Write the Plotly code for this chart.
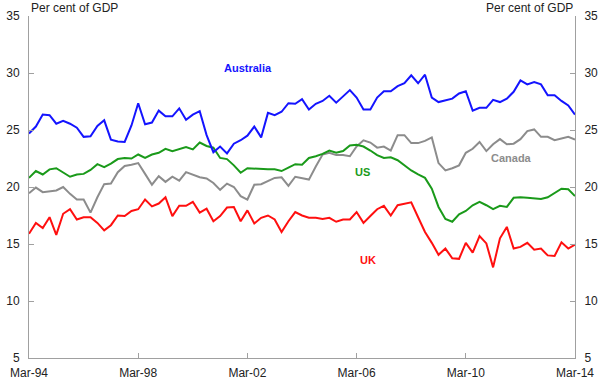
import plotly.graph_objects as go
import pandas as pd

dates = pd.date_range("1994-03-01", "2014-03-01", freq="3MS")

tick_dates = ["1994-03-01", "1998-03-01", "2002-03-01", "2006-03-01", "2010-03-01", "2014-03-01"]
tick_labels = ["Mar-94", "Mar-98", "Mar-02", "Mar-06", "Mar-10", "Mar-14"]
y_ticks = [5, 10, 15, 20, 25, 30, 35]

australia = [24.7, 25.3, 26.35, 26.3, 25.55, 25.8, 25.55, 25.2, 24.4, 24.45,
             25.35, 25.85, 24.15, 24.0, 23.95, 25.4, 27.35, 25.5, 25.65, 26.7,
             26.2, 26.2, 26.9, 25.9, 26.35, 26.65, 24.55, 23.05, 23.55, 22.95,
             23.8, 24.1, 24.5, 25.3, 24.35, 26.5, 26.3, 26.6, 27.35, 27.3,
             27.7, 26.8, 27.3, 27.55, 28.0, 27.4, 27.95, 28.5, 27.85, 26.8,
             26.8, 27.85, 28.4, 28.4, 28.85, 29.1, 29.8, 29.1, 29.85, 27.85,
             27.45, 27.6, 27.75, 28.2, 28.4, 26.7, 26.95, 26.95, 27.65, 27.45,
             27.75, 28.35, 29.35, 29.0, 29.2, 29.0, 28.05, 28.05, 27.55, 27.15,
             26.35]

us = [20.8, 21.4, 21.1, 21.55, 21.65, 21.25, 20.9, 21.1, 21.15, 21.5,
      22.0, 21.75, 22.05, 22.45, 22.55, 22.5, 22.85, 22.55, 22.85, 23.0,
      23.35, 23.15, 23.35, 23.5, 23.3, 23.9, 23.6, 23.45, 22.55, 22.45,
      21.9, 21.25, 21.65, 21.6, 21.55, 21.55, 21.55, 21.4, 21.7, 22.0,
      21.95, 22.55, 22.7, 22.9, 23.2, 23.0, 23.15, 23.65, 23.7, 23.55,
      23.2, 22.8, 22.55, 22.6, 22.35, 21.9, 21.45, 21.1, 20.8, 19.85,
      18.25, 17.2, 16.95, 17.6, 17.9, 18.4, 18.7, 18.4, 18.05, 18.35,
      18.25, 19.05, 19.1, 19.05, 19.0, 18.95, 19.1, 19.45, 19.85, 19.8,
      19.2]

canada = [19.45, 19.95, 19.55, 19.6, 19.7, 20.0, 19.4, 18.9, 18.9, 17.75,
          19.1, 20.25, 20.3, 21.3, 21.85, 21.95, 22.1, 21.15, 20.2, 20.95,
          20.45, 20.9, 20.55, 21.3, 21.1, 20.85, 20.75, 20.35, 19.75, 20.3,
          20.0, 19.2, 18.9, 20.2, 20.25, 20.5, 20.8, 20.85, 20.1, 20.9,
          20.8, 20.65, 21.8, 22.85, 23.0, 22.8, 22.8, 22.7, 23.55, 24.1,
          23.9, 23.45, 23.55, 23.2, 24.55, 24.55, 23.85, 23.85, 24.05, 24.35,
          22.1, 21.45, 21.65, 21.9, 23.0, 23.35, 23.95, 23.15, 23.75, 24.2,
          23.75, 23.8, 24.2, 24.9, 25.05, 24.4, 24.4, 24.1, 24.25, 24.4,
          24.15]

uk = [15.9, 16.85, 16.4, 17.35, 15.8, 17.65, 18.05, 17.15, 17.35, 17.35,
      16.85, 16.2, 16.65, 17.5, 17.45, 17.9, 18.05, 18.9, 18.3, 18.55,
      19.1, 17.45, 18.35, 18.35, 18.7, 17.75, 18.1, 17.0, 17.45, 18.2,
      18.25, 17.0, 17.95, 16.8, 17.3, 17.5, 17.15, 16.05, 17.0, 17.8,
      17.5, 17.3, 17.3, 17.2, 17.3, 16.95, 17.15, 17.15, 17.8, 16.85,
      17.45, 18.05, 18.35, 17.5, 18.4, 18.5, 18.65, 17.35, 16.05, 15.1,
      14.05, 14.6, 13.75, 13.7, 15.1, 14.25, 15.7, 15.05, 12.95, 15.5,
      16.5, 14.6, 14.75, 15.1, 14.5, 14.6, 14.0, 13.95, 15.15, 14.6,
      14.95]

series = [
    ("Canada", canada, "#8c8c8c"),
    ("US", us, "#1a9a1a"),
    ("Australia", australia, "#1414ff"),
    ("UK", uk, "#ff0f0f"),
]

FONT = "Arial, Liberation Sans, sans-serif"
AXIS_COLOR = "#a0a0a0"
TEXT_COLOR = "#222222"

fig = go.Figure()
for name, vals, col in series:
    fig.add_trace(go.Scatter(x=dates, y=vals, mode="lines", name=name,
                             line=dict(color=col, width=2), showlegend=False))
# invisible trace to activate the right-hand axis
fig.add_trace(go.Scatter(x=dates, y=uk, mode="lines", yaxis="y2",
                         line=dict(color="rgba(0,0,0,0)", width=0),
                         showlegend=False, hoverinfo="skip"))

axis_common = dict(
    showgrid=False, zeroline=False, showline=True, linecolor=AXIS_COLOR,
    linewidth=1, ticks="inside", ticklen=5, tickcolor=AXIS_COLOR,
    tickfont=dict(family=FONT, size=12, color=TEXT_COLOR),
    automargin=False,
)

fig.update_layout(
    width=600, height=380, autosize=False,
    margin=dict(l=29, r=25, t=16, b=22),
    paper_bgcolor="white", plot_bgcolor="white",
    font=dict(family=FONT, color=TEXT_COLOR),
    xaxis=dict(type="date", range=[dates[0], dates[-1]],
               tickvals=tick_dates, ticktext=tick_labels,
               ticklabelstandoff=4, **axis_common),
    yaxis=dict(range=[5, 35], tickvals=y_ticks, ticklabelstandoff=6, **axis_common),
    yaxis2=dict(range=[5, 35], tickvals=y_ticks, overlaying="y", side="right",
                ticklabelstandoff=6, **axis_common),
    showlegend=False,
)

label_font = dict(family=FONT, size=11)
labels = [
    ("Australia", 0.401, 0.849, "#1414ff"),
    ("US", 0.611, 0.545, "#1a9a1a"),
    ("Canada", 0.883, 0.584, "#8c8c8c"),
    ("UK", 0.621, 0.287, "#ff0f0f"),
]
for txt, xp, yp, col in labels:
    fig.add_annotation(text="<b>%s</b>" % txt, x=xp, y=yp, xref="paper", yref="paper",
                       showarrow=False, font=dict(color=col, **label_font),
                       xanchor="center", yanchor="middle")

fig.add_annotation(text="Per cent of GDP", x=0, y=1, xref="paper", yref="paper",
                   xanchor="left", yanchor="bottom", showarrow=False,
                   font=dict(family=FONT, size=12, color=TEXT_COLOR), yshift=-1)
fig.add_annotation(text="Per cent of GDP", x=1, y=1, xref="paper", yref="paper",
                   xanchor="right", yanchor="bottom", showarrow=False,
                   font=dict(family=FONT, size=12, color=TEXT_COLOR), yshift=-1)

fig.write_html("out.html", config={"displayModeBar": False},
               post_script="document.body.style.margin='0';document.body.style.padding='0';")
